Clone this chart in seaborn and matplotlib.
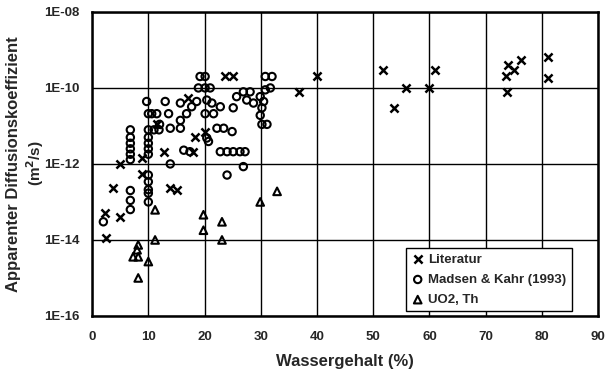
import matplotlib
matplotlib.use("Agg")
import matplotlib.pyplot as plt
import seaborn as sns
import pandas as pd

# Literature values: water content (%) and apparent diffusion coefficient (m^2/s)
lit_w = [2.5, 2.3, 5.0, 3.8, 5.0, 8.8, 8.8, 13.9, 15.1, 12.7, 18.0, 18.3, 20.1,
         11.5, 17.1, 23.7, 25.1, 36.8, 40.0, 51.8, 55.9, 53.7, 60.0, 60.9,
         73.8, 73.7, 74.0, 75.0, 76.2, 81.0, 81.0]
lit_d = [1.1e-14, 5.1e-14, 4.1e-14, 2.3e-13, 1.0e-12, 5.6e-13, 1.4e-12, 2.3e-13,
         2.1e-13, 2.1e-12, 2.1e-12, 5.2e-12, 7.1e-12, 1.1e-11, 5.4e-11, 2.1e-10,
         2.1e-10, 8.0e-11, 2.0e-10, 3.0e-10, 1.0e-10, 3.0e-11, 1.0e-10, 3.0e-10,
         8.0e-11, 2.0e-10, 4.0e-10, 3.0e-10, 5.5e-10, 6.6e-10, 1.8e-10]

# Madsen & Kahr (1993)
mk_w = [9.7, 11.5, 13.0, 13.6, 15.7, 16.8, 15.7, 13.9, 15.7, 17.7, 18.6, 19.2,
        20.1, 18.9, 20.1, 21.0, 20.4, 21.3, 22.8, 20.1, 21.6, 20.4, 22.2, 23.4,
        24.9, 25.1, 25.7, 26.9, 28.1, 27.5, 28.7, 29.9, 30.8, 31.7, 30.8, 32.0,
        30.5, 30.2, 29.9, 30.2, 31.1, 16.3, 13.9, 22.8, 24.0, 25.1, 26.3, 27.2,
        26.9, 24.0, 20.7, 17.4,
        6.8, 6.8, 6.8, 6.8, 6.8, 6.8, 6.8, 6.8, 6.8,
        10.0, 10.0, 10.0, 10.0, 10.0, 10.0, 10.0, 10.0, 10.0, 10.0, 10.0,
        10.6, 11.0, 11.9, 2.0, 12.0]
mk_d = [4.4e-11, 2.1e-11, 4.4e-11, 2.1e-11, 4.0e-11, 2.1e-11, 1.4e-11, 8.7e-12,
        8.7e-12, 3.2e-11, 4.4e-11, 2.0e-10, 2.0e-10, 1.0e-10, 1.0e-10, 1.0e-10,
        4.8e-11, 4.0e-11, 3.2e-11, 2.1e-11, 2.1e-11, 4.8e-12, 8.7e-12, 8.7e-12,
        7.1e-12, 3.0e-11, 5.9e-11, 7.9e-11, 7.9e-11, 4.8e-11, 4.0e-11, 5.9e-11,
        8.9e-11, 1.0e-10, 2.0e-10, 2.0e-10, 4.4e-11, 3.0e-11, 1.9e-11, 1.1e-11,
        1.1e-11, 2.3e-12, 1.0e-12, 2.1e-12, 2.1e-12, 2.1e-12, 2.1e-12, 2.1e-12,
        8.5e-13, 5.1e-13, 3.9e-12, 2.1e-12,
        7.9e-12, 5.0e-12, 3.5e-12, 2.5e-12, 1.8e-12, 1.3e-12, 2.0e-13, 1.1e-13, 6.3e-14,
        2.1e-11, 7.9e-12, 5.0e-12, 3.5e-12, 2.5e-12, 1.8e-12, 5.1e-13, 3.4e-13,
        2.1e-13, 1.7e-13, 1.0e-13,
        2.1e-11, 7.9e-12, 7.9e-12, 3.0e-14, 1.1e-11]

# UO2, Th
uo_w = [11.2, 19.8, 19.8, 23.1, 23.1, 29.9, 32.9, 11.2, 10.0, 7.3, 8.2, 8.0, 8.2, 8.2]
uo_d = [6.2e-14, 4.6e-14, 1.8e-14, 3.0e-14, 1.0e-14, 1.0e-13, 1.9e-13, 1.0e-14,
        2.7e-15, 3.6e-15, 3.6e-15, 5.5e-15, 7.4e-15, 1.0e-15]

series_names = ["Literatur", "Madsen & Kahr (1993)", "UO2, Th"]
x_ticks = [0, 10, 20, 30, 40, 50, 60, 70, 80, 90]
y_ticks = [1e-16, 1e-14, 1e-12, 1e-10, 1e-8]
y_tick_labels = ["1E-16", "1E-14", "1E-12", "1E-10", "1E-08"]

sns.set_style("white")
plt.rcParams["font.family"] = ["Liberation Sans", "DejaVu Sans"]
plt.rcParams["font.weight"] = "bold"
plt.rcParams["mathtext.default"] = "bf"

fig = plt.figure(figsize=(6.06, 3.73), dpi=100)
ax = fig.add_axes([0.152, 0.153, 0.835, 0.815])

df_lit = pd.DataFrame({"w": lit_w, "d": lit_d})
df_mk = pd.DataFrame({"w": mk_w, "d": mk_d})
df_uo = pd.DataFrame({"w": uo_w, "d": uo_d})

sns.scatterplot(data=df_lit, x="w", y="d", ax=ax, marker="x", color="black",
                s=34, linewidth=1.8, label=series_names[0], zorder=3)
sns.scatterplot(data=df_mk, x="w", y="d", ax=ax, marker="o", facecolor="none",
                edgecolor="black", s=28, linewidth=1.5, label=series_names[1], zorder=3)
sns.scatterplot(data=df_uo, x="w", y="d", ax=ax, marker="^", facecolor="none",
                edgecolor="black", s=30, linewidth=1.5, label=series_names[2], zorder=3)

ax.set_yscale("log")
ax.set_xlim(0, 90)
ax.set_ylim(1e-16, 1e-8)
ax.set_xticks(x_ticks)
ax.set_xticklabels([str(t) for t in x_ticks], fontsize=9.5, fontweight="bold")
ax.set_yticks(y_ticks)
ax.set_yticklabels(y_tick_labels, fontsize=9.5, fontweight="bold")
ax.minorticks_off()
ax.tick_params(axis="y", length=0, pad=9)
ax.tick_params(axis="x", length=0, pad=11)

ax.grid(True, which="major", color="black", linewidth=1.0)
ax.set_axisbelow(True)
for sp in ax.spines.values():
    sp.set_color("black")
    sp.set_linewidth(1.8)

ax.set_xlabel("Wassergehalt (%)", fontsize=12, fontweight="bold", labelpad=8)
ax.set_ylabel("")
fig.text(14 / 606, 1 - 164 / 373, "Apparenter Diffusionskoeffizient", rotation=90,
         ha="center", va="center", fontsize=12, fontweight="bold")
fig.text(35 / 606, 1 - 163 / 373, "(m$^2$/s)", rotation=90,
         ha="center", va="center", fontsize=11, fontweight="bold")

leg = ax.legend(loc="lower left", bbox_to_anchor=(0.62, 0.015), frameon=True,
                fancybox=False, edgecolor="black", framealpha=1, fontsize=9.5,
                handletextpad=0.3, borderpad=0.4, labelspacing=0.6,
                handlelength=1.0, borderaxespad=0)
leg.get_frame().set_linewidth(1.0)

fig.savefig("out.png", dpi=100)
